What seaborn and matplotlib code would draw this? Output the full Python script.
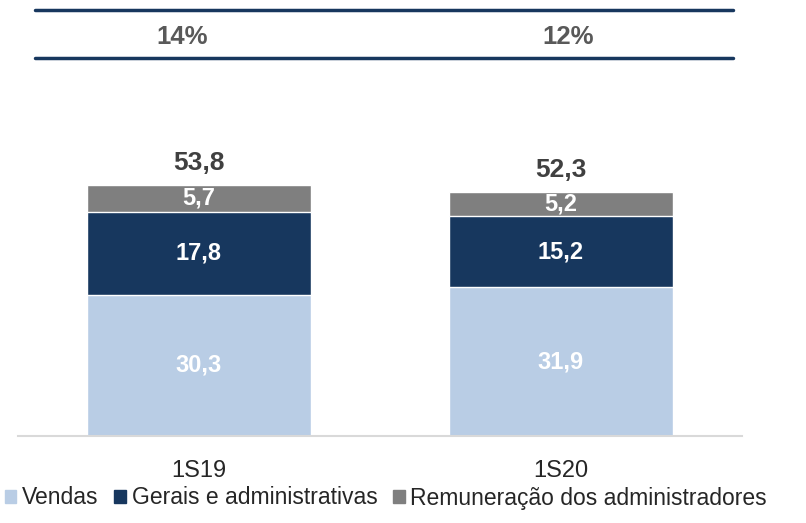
import pandas as pd
import seaborn as sns
from matplotlib import pyplot as plt
from matplotlib.lines import Line2D
from matplotlib.patches import Patch

periodos = ['1S19', '1S20']
vendas = [30.3, 31.9]
gerais = [17.8, 15.2]
remuneracao = [5.7, 5.2]
totais = [53.8, 52.3]
percentuais = ['14%', '12%']

cor_vendas = '#B9CDE5'
cor_gerais = '#17375E'
cor_remun = '#7F7F7F'

df = pd.DataFrame({'periodo': periodos, 'vendas': vendas, 'gerais': gerais, 'remun': remuneracao})
df['nivel2'] = df['vendas'] + df['gerais']
df['nivel3'] = df['nivel2'] + df['remun']

sns.set_style('white')
plt.rcParams['font.family'] = ['Liberation Sans', 'DejaVu Sans']

fig = plt.figure(figsize=(8.06, 5.23), dpi=100)
ax = fig.add_axes([0.0223, 0.1663, 0.898, 0.6424])

# empilhamento: desenha do total para baixo
sns.barplot(data=df, x='periodo', y='nivel3', color=cor_remun, width=0.62, ax=ax, saturation=1)
sns.barplot(data=df, x='periodo', y='nivel2', color=cor_gerais, width=0.62, ax=ax, saturation=1)
sns.barplot(data=df, x='periodo', y='vendas', color=cor_vendas, width=0.62, ax=ax, saturation=1)

def fmt(v):
    return f'{v:.1f}'.replace('.', ',')

for i in range(len(periodos)):
    ax.text(i, vendas[i] / 2, fmt(vendas[i]), ha='center', va='center',
            color='white', fontsize=17, fontweight='bold')
    ax.text(i, vendas[i] + gerais[i] / 2, fmt(gerais[i]), ha='center', va='center',
            color='white', fontsize=17, fontweight='bold')
    ax.text(i, vendas[i] + gerais[i] + remuneracao[i] / 2, fmt(remuneracao[i]),
            ha='center', va='center', color='white', fontsize=17, fontweight='bold')
    ax.text(i, totais[i] + 4.8, fmt(totais[i]), ha='center', va='center',
            color='#404040', fontsize=19, fontweight='bold')

ax.set_xlim(-0.5, 1.5)
ax.set_ylim(0, 72)
ax.set_xlabel('')
ax.set_ylabel('')
ax.set_yticks([])
ax.tick_params(axis='x', labelsize=17, colors='#262626', length=0, pad=17)
sns.despine(ax=ax, left=True)
ax.spines['bottom'].set_color('#D9D9D9')
ax.spines['bottom'].set_linewidth(1.5)

# cabeçalho com percentuais
for yy in [10, 58]:
    fig.add_artist(Line2D([35 / 806, 733 / 806], [1 - yy / 523, 1 - yy / 523],
                          color='#17375E', linewidth=2.5))
for px, txt in zip([182, 568], percentuais):
    fig.text(px / 806, 1 - 37 / 523, txt, ha='center', va='center', fontsize=18.5,
             fontweight='bold', color='#595959')

handles = [Patch(color=cor_vendas), Patch(color=cor_gerais), Patch(color=cor_remun)]
fig.legend(handles, ['Vendas', 'Gerais e administrativas', 'Remuneração dos administradores'],
           loc='center left', bbox_to_anchor=(0.0, 1 - 498 / 523), ncol=3, frameon=False,
           fontsize=16.5, handlelength=0.5, handleheight=0.5, handletextpad=0.25,
           columnspacing=0.7, borderaxespad=0, borderpad=0.2, labelcolor='#262626')

fig.savefig('out.png', dpi=100)
